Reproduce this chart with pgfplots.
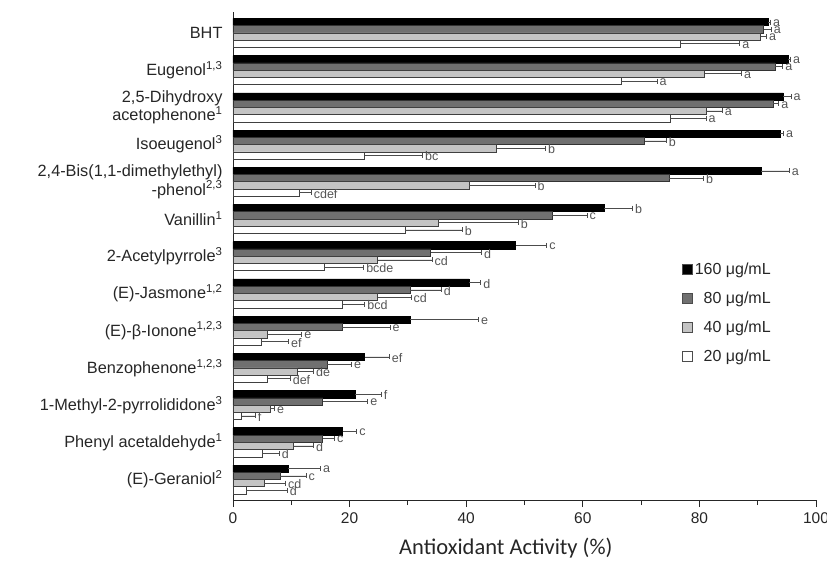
\documentclass[border=0pt]{standalone}
\usepackage{fontspec}
\setmainfont{Liberation Sans}
\newfontfamily\calibri{Carlito}
\usepackage{pgfplots}
\pgfplotsset{compat=1.18}
\usepackage{pgfplotstable}
\definecolor{dgray}{HTML}{707070}
\definecolor{lgray}{HTML}{C4C4C4}
\definecolor{lettc}{HTML}{555555}

% y: 0 = (E)-Geraniol ... 12 = BHT
\pgfplotstableread{
y v e l
0 9.5 5.5 a
1 18.8 2.4 c
2 21.0 4.4 f
3 22.6 4.2 ef
4 30.4 11.7 e
5 40.5 2.0 d
6 48.5 5.3 c
7 63.7 4.8 b
8 90.6 4.8 a
9 93.8 0.6 a
10 94.4 1.3 a
11 95.2 0.4 a
12 91.8 0.4 a
}\dataA
\pgfplotstableread{
y v e l
0 8.1 4.4 c
1 15.4 2.0 c
2 15.4 7.7 e
3 16.1 4.2 e
4 18.7 8.2 e
5 30.4 5.3 d
6 33.9 8.7 d
7 54.8 5.9 c
8 74.8 5.9 b
9 70.6 3.7 b
10 92.7 0.9 a
11 93.0 1.3 a
12 91.0 1.3 a
}\dataB
\pgfplotstableread{
y v e l
0 5.4 3.6 cd
1 10.3 3.5 d
2 6.4 0.7 e
3 11.1 2.7 de
4 5.9 5.9 e
5 24.8 5.7 cd
6 24.8 9.3 cd
7 35.2 13.7 b
8 40.5 11.3 b
9 45.2 8.4 b
10 81.1 2.8 a
11 80.9 6.3 a
12 90.5 1.0 a
}\dataC
\pgfplotstableread{
y v e l
0 2.3 7.0 d
1 5.0 2.9 d
2 1.5 2.3 f
3 5.9 3.9 def
4 4.8 4.7 ef
5 18.7 3.9 bcd
6 15.6 6.8 bcde
7 29.5 9.8 b
8 11.3 2.1 cdef
9 22.6 9.9 bc
10 75.0 6.1 a
11 66.6 6.1 a
12 76.7 10.2 a
}\dataD

\begin{document}
\begin{tikzpicture}
\begin{axis}[
  at={(0,0)}, anchor=south west,
  scale only axis, width=583pt, height=488.3pt,
  xbar, bar width=0.195,
  xmin=0, xmax=100, ymin=-0.55, ymax=12.57,
  axis x line*=bottom, axis y line*=left,
  axis line style={black!85, line width=0.8pt},
  xtick={0,20,...,100}, minor xtick={10,30,...,90},
  tick align=outside,
  major tick length=7pt, minor tick length=5pt,
  x tick style={black!85, line width=0.8pt},
  ytick={0,...,12},
  y tick style={draw=none},
  yticklabels={
    {(E)-Geraniol\textsuperscript{2}},
    {Phenyl acetaldehyde\textsuperscript{1}},
    {1-Methyl-2-pyrrolididone\textsuperscript{3}},
    {Benzophenone\textsuperscript{1,2,3}},
    {(E)-β-Ionone\textsuperscript{1,2,3}},
    {(E)-Jasmone\textsuperscript{1,2}},
    {2-Acetylpyrrole\textsuperscript{3}},
    {Vanillin\textsuperscript{1}},
    {2,4-Bis(1,1-dimethylethyl)\\-phenol\textsuperscript{2,3}},
    {Isoeugenol\textsuperscript{3}},
    {2,5-Dihydroxy\\acetophenone\textsuperscript{1}},
    {Eugenol\textsuperscript{1,3}},
    {BHT}},
  yticklabel style={align=right, font=\fontsize{16.3}{18.5}\selectfont, text=black!85},
  xticklabel style={font=\fontsize{15.5}{18}\selectfont, text=black!85, yshift=-2pt},
  /pgf/number format/assume math mode=true,
  xlabel={Antioxidant Activity (\%)},
  xlabel style={font={\calibri\fontsize{22.5}{25}\selectfont}, text=black!85, at={(rel axis cs:0.468,0)}, anchor=center, yshift=-48pt},
  legend style={at={(rel axis cs:0.765,0.495)}, anchor=north west, draw=none, fill=none,
    font=\fontsize{16}{18}\selectfont, row sep=12pt, text=black!85},
  legend cell align=left,
  legend image code/.code={\draw[#1, draw=black!70, line width=0.6pt] (0pt,-5pt) rectangle (10pt,5pt);},
  error bars/error bar style={black!70, line width=0.6pt},
  error bars/error mark=|,
  error bars/error mark options={black!70, line width=0.6pt, mark size=2.5pt},
  nodes near coords style={font=\fontsize{12.5}{13}\selectfont, text=lettc, anchor=west, inner sep=2.5pt, yshift=-1pt},
]
% bars
\addplot[fill=black, draw=black, line width=0.6pt, bar shift=0.2925,
  error bars/.cd, x dir=plus, x explicit]
  table[y=y, x=v, x error=e]{\dataA};
\addlegendentry{160 μg/mL}
\addplot[fill=dgray, draw=black!80, line width=0.6pt, bar shift=0.0975,
  error bars/.cd, x dir=plus, x explicit]
  table[y=y, x=v, x error=e]{\dataB};
\addlegendentry{\phantom{1}80 μg/mL}
\addplot[fill=lgray, draw=black!75, line width=0.6pt, bar shift=-0.0975,
  error bars/.cd, x dir=plus, x explicit]
  table[y=y, x=v, x error=e]{\dataC};
\addlegendentry{\phantom{1}40 μg/mL}
\addplot[fill=white, draw=black!75, line width=0.6pt, bar shift=-0.2925,
  error bars/.cd, x dir=plus, x explicit]
  table[y=y, x=v, x error=e]{\dataD};
\addlegendentry{\phantom{1}20 μg/mL}
% letters at the error bar ends
\addplot[draw=none, fill=none, bar shift=0.2925, forget plot, nodes near coords, point meta=explicit symbolic]
  table[y=y, x expr=\thisrow{v}+\thisrow{e}, meta=l]{\dataA};
\addplot[draw=none, fill=none, bar shift=0.0975, forget plot, nodes near coords, point meta=explicit symbolic]
  table[y=y, x expr=\thisrow{v}+\thisrow{e}, meta=l]{\dataB};
\addplot[draw=none, fill=none, bar shift=-0.0975, forget plot, nodes near coords, point meta=explicit symbolic]
  table[y=y, x expr=\thisrow{v}+\thisrow{e}, meta=l]{\dataC};
\addplot[draw=none, fill=none, bar shift=-0.2925, forget plot, nodes near coords, point meta=explicit symbolic]
  table[y=y, x expr=\thisrow{v}+\thisrow{e}, meta=l]{\dataD};
\end{axis}
\pgfresetboundingbox
\path[use as bounding box] (-233pt,-60pt) rectangle (594pt,500pt);
\end{tikzpicture}
\end{document}
